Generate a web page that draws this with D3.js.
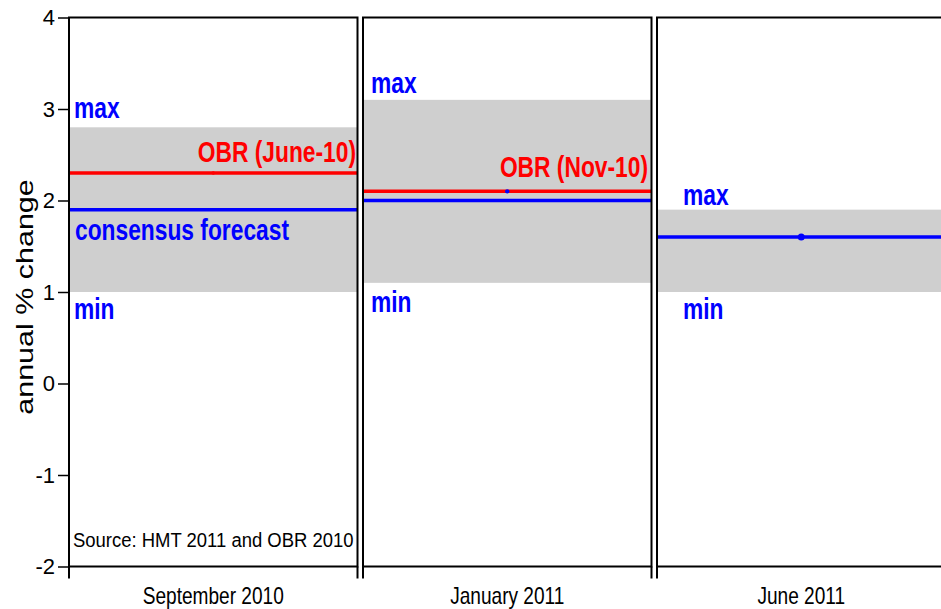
<!DOCTYPE html>
<html>
<head>
<meta charset="utf-8">
<script src="https://cdn.jsdelivr.net/npm/d3@7"></script>
<style>
  body { margin: 0; background: #fff; }
  text { font-family: "Liberation Sans", Arial, sans-serif; }
</style>
</head>
<body>
<div class="chart"></div>
<script>
/** chart data */
const panels = ['September 2010', 'January 2011', 'June 2011'];
const maxVals = [2.8, 3.1, 1.9];
const minVals = [1.0, 1.1, 1.0];
const consensus = [1.9, 2.0, 1.6];
const obr = [2.3, 2.1, null];
const obrLabels = ['OBR (June-10)', 'OBR (Nov-10)', ''];
const maxLabelAt = [2.9, 3.18, 1.95];
const minLabelAt = [0.71, 0.785, 0.70];
const yTicks = [-2, -1, 0, 1, 2, 3, 4];

const width = 941, height = 609;
const red = '#ff0000', blue = '#0000ff', band = '#cfcfcf';

let svg = d3.select('.chart').append('svg')
    .attr('width', width)
    .attr('height', height);

let y = d3.scaleLinear().domain([-2, 4]).range([566.5, 17.5]);
let x = d3.scaleBand().domain(panels).range([69, 945.5]).paddingInner(0.0187);
let bw = x.bandwidth();

/** squeezed text like the original */
function label(g, tx, ty, str, opts) {
  return g.append('text')
      .attr('transform', `translate(${tx},${ty}) scale(${opts.sx},1)`)
      .attr('text-anchor', opts.anchor || 'start')
      .style('font-size', opts.size + 'px')
      .style('font-weight', opts.bold ? 'bold' : 'normal')
      .attr('fill', opts.color || '#000')
      .text(str);
}

const labelInset = [5, 8, 26];
const dotColor = [red, blue, blue];
const dotR = [1.8, 2.2, 3.5];

panels.forEach(function (p, i) {
  let g = svg.append('g').attr('class', 'panel');
  let x0 = x(p), x1 = x(p) + bw;

  /** min-max range */
  g.append('rect')
      .attr('x', x0).attr('width', bw)
      .attr('y', y(maxVals[i]))
      .attr('height', y(minVals[i]) - y(maxVals[i]))
      .attr('fill', band);

  if (obr[i] != null) {
    g.append('line')
        .attr('x1', x0).attr('x2', x1)
        .attr('y1', y(obr[i])).attr('y2', y(obr[i]))
        .attr('stroke', red).attr('stroke-width', 3.5);
  }
  g.append('line')
      .attr('x1', x0).attr('x2', x1)
      .attr('y1', y(consensus[i])).attr('y2', y(consensus[i]))
      .attr('stroke', blue).attr('stroke-width', 3.5);

  g.append('circle')
      .attr('cx', x0 + bw / 2)
      .attr('cy', y(obr[i] != null ? obr[i] : consensus[i]))
      .attr('r', dotR[i])
      .attr('fill', dotColor[i]);

  let lx = x0 + labelInset[i];
  label(g, lx, y(maxLabelAt[i]), 'max', {size: 30, sx: 0.76, bold: true, color: blue});
  label(g, lx, y(minLabelAt[i]), 'min', {size: 30, sx: 0.76, bold: true, color: blue});

  if (obrLabels[i]) {
    label(g, x1 - (i == 0 ? 1.5 : 3.5), y(obr[i]) - (i == 0 ? 11 : 14), obrLabels[i],
          {size: 30, sx: 0.76, bold: true, color: red, anchor: 'end'});
  }
  if (i == 0) {
    label(g, x0 + 6, y(consensus[i]) + 30, 'consensus forecast',
          {size: 30, sx: 0.76, bold: true, color: blue});
    label(g, x0 + 4, 547, 'Source: HMT 2011 and OBR 2010', {size: 21, sx: 0.88});
  }

  /** panel frame */
  g.append('rect')
      .attr('x', x0).attr('y', y(4))
      .attr('width', bw).attr('height', y(-2) - y(4))
      .attr('fill', 'none')
      .attr('stroke', '#000').attr('stroke-width', 2);

  /** bottom ticks at panel edges */
  [x0, x1].forEach(function (tx) {
    g.append('line')
        .attr('x1', tx).attr('x2', tx)
        .attr('y1', y(-2)).attr('y2', y(-2) + 12)
        .attr('stroke', '#000').attr('stroke-width', 2);
  });

  label(g, x0 + bw / 2, 604, p, {size: 23, sx: 0.83, anchor: 'middle'});
});

/** y axis */
let yAxis = svg.append('g')
    .attr('transform', 'translate(69,0)')
    .call(d3.axisLeft(y).tickValues(yTicks).tickFormat(d => String(d))
            .tickSize(11).tickPadding(3));
yAxis.select('.domain').remove();
yAxis.selectAll('line').attr('stroke-width', 1.5);
yAxis.selectAll('text')
    .style('font-size', '22px')
    .style('font-family', '"Liberation Sans", Arial, sans-serif')
    .attr('fill', '#000');

svg.append('text')
    .attr('transform', 'translate(33,297) rotate(-90) scale(1.27,1)')
    .attr('text-anchor', 'middle')
    .style('font-size', '24px')
    .text('annual % change');
</script>
</body>
</html>
